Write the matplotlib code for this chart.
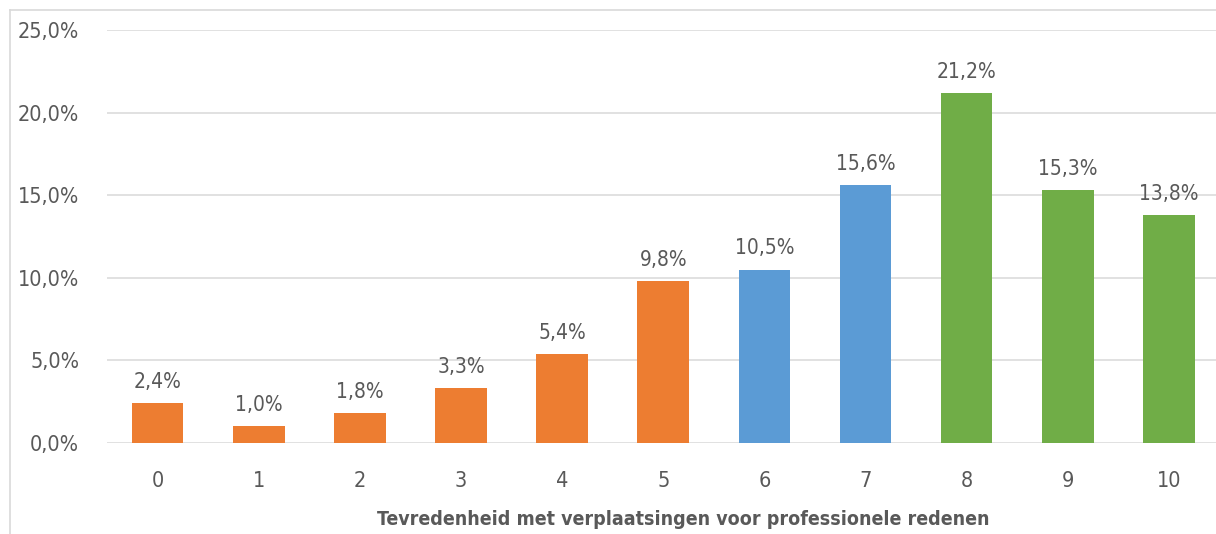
import matplotlib.pyplot as plt
from matplotlib.lines import Line2D

# scores en percentages
scores = ['0', '1', '2', '3', '4', '5', '6', '7', '8', '9', '10']
waarden = [2.4, 1.0, 1.8, 3.3, 5.4, 9.8, 10.5, 15.6, 21.2, 15.3, 13.8]
kleuren = ['#ED7D31'] * 6 + ['#5B9BD5'] * 2 + ['#70AD47'] * 3

plt.rcParams['font.family'] = ['DejaVu Sans']
plt.rcParams['font.stretch'] = 'condensed'
grijs = '#595959'

fig = plt.figure(figsize=(12.16, 5.34), dpi=100)
ax = fig.add_axes([107 / 1216, 91 / 534, (1216 - 107) / 1216, 413 / 534])

x = range(len(scores))
bars = ax.bar(x, waarden, width=0.51, color=kleuren, zorder=3)

for b, v in zip(bars, waarden):
    ax.annotate(f'{v:.1f}%'.replace('.', ','), (b.get_x() + b.get_width() / 2, v),
                xytext=(0, 8), textcoords='offset points', ha='center', va='bottom',
                fontsize=15, color=grijs, fontstretch='condensed')

ax.set_ylim(0, 25)
ax.set_xlim(-0.5, 10.465)
ax.set_yticks([0, 5, 10, 15, 20, 25])
ax.set_yticklabels([f'{t:.1f}%'.replace('.', ',') for t in [0, 5, 10, 15, 20, 25]],
                   fontstretch='condensed')
ax.set_xticks(list(x))
ax.set_xticklabels(scores, fontstretch='condensed')
ax.tick_params(axis='y', length=0, pad=20, labelsize=15.5, labelcolor=grijs)
ax.tick_params(axis='x', length=0, pad=20, labelsize=15.5, labelcolor=grijs)
ax.grid(axis='y', color='#D9D9D9', linewidth=1.1, zorder=0)
for s in ax.spines.values():
    s.set_visible(False)

ax.set_xlabel('Tevredenheid met verplaatsingen voor professionele redenen',
              fontsize=14, fontweight='bold', color=grijs, fontstretch='condensed')
ax.xaxis.set_label_coords((683 - 107) / (1216 - 107), -0.162)

# kader rond de grafiek
fig.add_artist(Line2D([10 / 1216, 10 / 1216], [0, 1 - 10 / 534], color='#D9D9D9', lw=1.2))
fig.add_artist(Line2D([10 / 1216, 1], [1 - 10 / 534, 1 - 10 / 534], color='#D9D9D9', lw=1.2))

fig.savefig('out.png', dpi=100)
